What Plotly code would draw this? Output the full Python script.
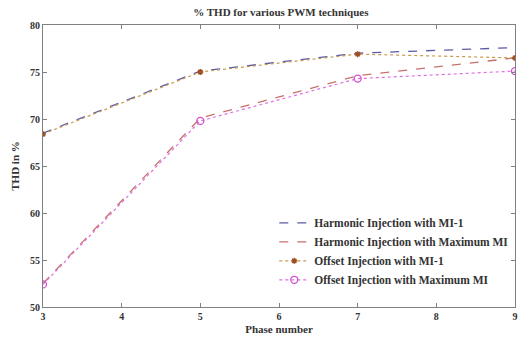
import plotly.graph_objects as go

# Phase number on the x axis
phases = [3, 5, 7, 9]

# %THD values for each PWM technique
harmonic_mi1 = [68.5, 75.1, 77.0, 77.6]
harmonic_max_mi = [52.5, 70.1, 74.6, 76.5]
offset_mi1 = [68.4, 75.0, 76.9, 76.5]
offset_max_mi = [52.4, 69.8, 74.3, 75.1]

x_ticks = [3, 4, 5, 6, 7, 8, 9]
y_ticks = [50, 55, 60, 65, 70, 75, 80]

serif = "Liberation Serif"
ink = "#333333"

fig = go.Figure()

fig.add_trace(go.Scatter(
    x=phases, y=harmonic_mi1, mode="lines",
    name="Harmonic Injection with MI-1",
    line=dict(color="#5a5aa8", width=1.3, dash="dash"),
))
fig.add_trace(go.Scatter(
    x=phases, y=harmonic_max_mi, mode="lines",
    name="Harmonic Injection with Maximum MI",
    line=dict(color="#c8706a", width=1.3, dash="dash"),
))
fig.add_trace(go.Scatter(
    x=phases, y=offset_mi1, mode="lines+markers",
    name="Offset Injection with MI-1",
    line=dict(color="#c89a50", width=1.2, dash="dot"),
    marker=dict(symbol="asterisk-open", size=5, color="#a05020",
                line=dict(color="#a05020", width=1.5)),
))
fig.add_trace(go.Scatter(
    x=phases, y=offset_max_mi, mode="lines+markers",
    name="Offset Injection with Maximum MI",
    line=dict(color="#e070e0", width=1.2, dash="dot"),
    marker=dict(symbol="circle-open", size=7, color="#d050d0",
                line=dict(color="#d050d0", width=1.3)),
))

axis_common = dict(
    showgrid=False, zeroline=False, mirror="allticks",
    showline=True, linecolor="#808080", linewidth=1,
    ticks="inside", ticklen=4, tickcolor="#808080",
    tickfont=dict(family=serif, size=10, color=ink, weight="bold"),
)

fig.update_xaxes(range=[3, 9], tickvals=x_ticks,
                 title=dict(text="<b>Phase number</b>", standoff=4,
                            font=dict(family=serif, size=11, color=ink)),
                 **axis_common)
fig.update_yaxes(range=[50, 80], tickvals=y_ticks,
                 title=dict(text="<b>THD in %</b>", standoff=8,
                            font=dict(family=serif, size=11, color=ink)),
                 **axis_common)

fig.update_layout(
    width=525, height=344,
    margin=dict(l=43, r=7, t=25, b=37),
    paper_bgcolor="white", plot_bgcolor="white",
    title=dict(text="<b>% THD for various PWM techniques</b>",
               x=0.535, xanchor="center", y=0.965, yanchor="middle",
               font=dict(family=serif, size=11, color=ink)),
    font=dict(family=serif, color=ink),
    legend=dict(x=0.49, y=0.35, xanchor="left", yanchor="top",
                bgcolor="rgba(255,255,255,0)", borderwidth=0,
                font=dict(family=serif, size=11.5, color=ink, weight="bold"),
                itemwidth=30, tracegroupgap=0),
    showlegend=True,
)

fig.write_html("out.html")
